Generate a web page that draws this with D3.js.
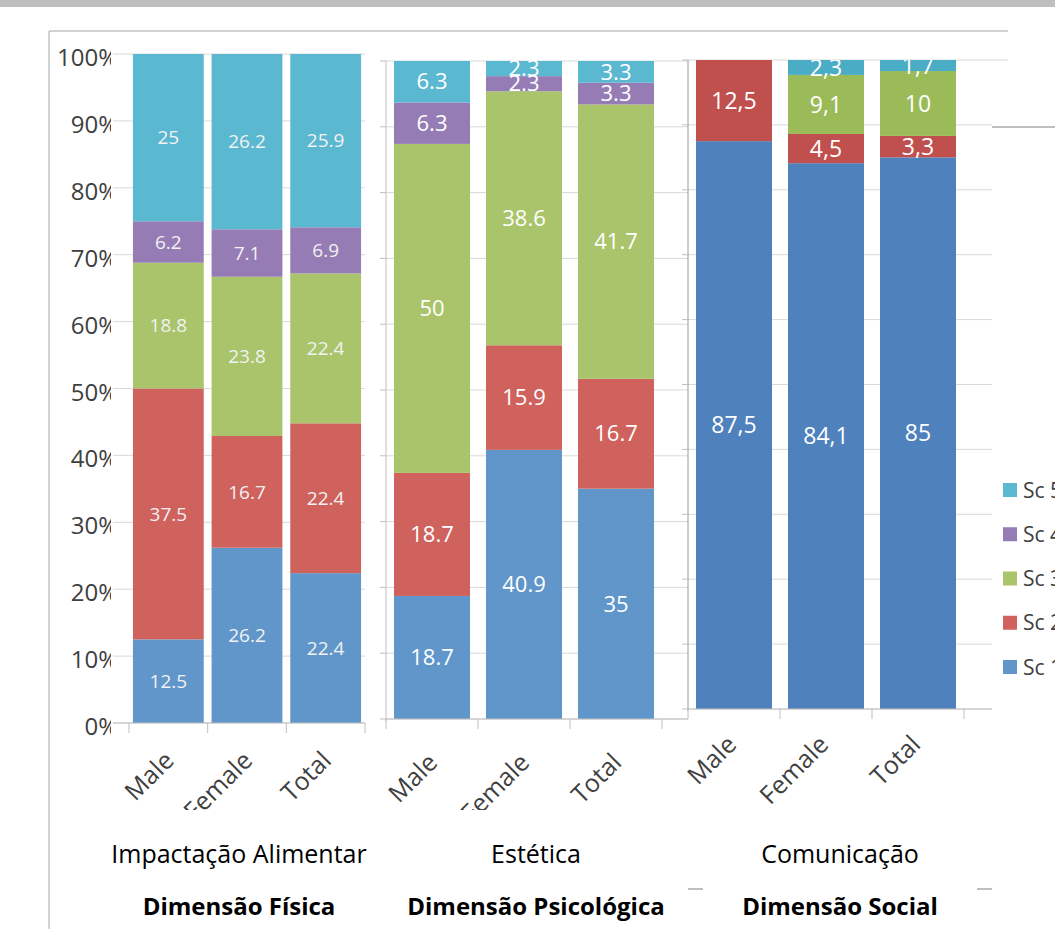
<!DOCTYPE html>
<html>
<head>
<meta charset="utf-8">
<script src="https://cdn.jsdelivr.net/npm/d3@7"></script>
<style>
    body { margin: 0; background: #fff; overflow: hidden; width: 1055px; height: 929px; }
    svg { display: block; font-family: "Open Sans", sans-serif; }
</style>
</head>
<body>
<svg id="chart" width="1055" height="929"></svg>
<script>
// Datos del gráfico
const grupos = ["Male", "Female", "Total"];
const series = ["Sc 1", "Sc 2", "Sc 3", "Sc 4", "Sc 5"];
const ordemLegenda = ["Sc 5", "Sc 4", "Sc 3", "Sc 2", "Sc 1"];
const yTicks = [0, 10, 20, 30, 40, 50, 60, 70, 80, 90, 100];
const yLabels = ["0%", "10%", "20%", "30%", "40%", "50%", "60%", "70%", "80%", "90%", "100%"];

// Una fila por grupo (Male, Female, Total), una columna por série (Sc 1..Sc 5)
const fisica = [[12.5, 37.5, 18.8, 6.2, 25], [26.2, 16.7, 23.8, 7.1, 26.2], [22.4, 22.4, 22.4, 6.9, 25.9]];
const estetica = [[18.7, 18.7, 50, 6.3, 6.3], [40.9, 15.9, 38.6, 2.3, 2.3], [35, 16.7, 41.7, 3.3, 3.3]];
const social = [[87.5, 12.5, 0, 0, 0], [84.1, 4.5, 9.1, 0, 2.3], [85, 3.3, 10, 0, 1.7]];

const subtitulos = ["Impactação Alimentar", "Estética", "Comunicação"];
const dimensoes = ["Dimensão Física", "Dimensão Psicológica", "Dimensão Social"];

const coresClaras = ["#6096CA", "#CF625D", "#A9C46B", "#957CB4", "#5BB8D1"];
const coresEscuras = ["#4F81BD", "#C0504D", "#9BBB59", "#8064A2", "#4BACC6"];

const svg = d3.select("#chart");
const defs = svg.append("defs");

// faixa cinza no topo e moldura
svg.append("rect").attr("x", 0).attr("y", 0).attr("width", 1055).attr("height", 7).attr("fill", "#BFBFBF");
svg.append("line").attr("x1", 49).attr("x2", 1008).attr("y1", 31).attr("y2", 31).attr("stroke", "#A6A6A6");
svg.append("line").attr("x1", 49).attr("x2", 49).attr("y1", 31).attr("y2", 929).attr("stroke", "#A6A6A6");

defs.append("clipPath").attr("id", "clipY").append("rect").attr("x", 0).attr("y", 0).attr("width", 111).attr("height", 929);
defs.append("clipPath").attr("id", "clipX").append("rect").attr("x", 0).attr("y", 0).attr("width", 1055).attr("height", 810);
defs.append("clipPath").attr("id", "clipTop3").append("rect").attr("x", 680).attr("y", 60).attr("width", 400).attr("height", 700);

const paineis = [
    { dados: fisica, x0: 129, x1: 365, yTop: 54, yBot: 723, gx0: 113, gx1: 365, pad: 0.1, cores: coresClaras,
      fs: 19, cor: "#F2F2F2", dec: ".", ldx: 7, ldy: 39, clip: "clipX", yAxis: false, cx: 239 },
    { dados: estetica, x0: 386, x1: 662, yTop: 61, yBot: 719, gx0: 386, gx1: 688, pad: 0.174, cores: coresClaras,
      fs: 22, cor: "#FFFFFF", dec: ".", ldx: 7, ldy: 45, clip: "clipX", yAxis: true, cx: 536 },
    { dados: social, x0: 688, x1: 964, yTop: 60, yBot: 709, gx0: 688, gx1: 992, pad: 0.174, cores: coresEscuras,
      fs: 23, cor: "#FFFFFF", dec: ",", ldx: 4, ldy: 37, clip: null, yAxis: true, cx: 840 }
];

paineis.forEach((p, pi) => {
    const x = d3.scaleBand().domain(grupos).range([p.x0, p.x1])
        .paddingInner(p.pad).paddingOuter(p.pad / 2);
    const y = d3.scaleLinear().domain([0, 100]).range([p.yBot, p.yTop]);
    const g = svg.append("g");

    // linhas de grade
    g.selectAll("line.grid").data(yTicks).join("line")
        .attr("x1", p.gx0).attr("x2", d => (pi === 2 && d === 100) ? 1008 : p.gx1)
        .attr("y1", d => y(d)).attr("y2", d => y(d))
        .attr("stroke", "#D9D9D9").attr("stroke-width", 1);

    // barras empilhadas
    const linhas = p.dados.map((v, i) => {
        const o = { grupo: grupos[i] };
        series.forEach((s, j) => o[s] = v[j]);
        return o;
    });
    const pilha = d3.stack().keys(series)(linhas);

    pilha.forEach((camada, si) => {
        g.append("g").attr("fill", p.cores[si])
            .selectAll("rect").data(camada.filter(d => d[1] - d[0] > 0)).join("rect")
            .attr("x", d => x(d.data.grupo))
            .attr("width", x.bandwidth())
            .attr("y", d => y(d[1]))
            .attr("height", d => y(d[0]) - y(d[1]));
    });

    // rótulos de dados
    const rotulos = g.append("g").attr("clip-path", pi === 2 ? "url(#clipTop3)" : null);
    pilha.forEach(camada => {
        rotulos.append("g").selectAll("text").data(camada.filter(d => d[1] - d[0] > 0)).join("text")
            .attr("x", d => x(d.data.grupo) + x.bandwidth() / 2)
            .attr("y", d => (y(d[0]) + y(d[1])) / 2)
            .attr("dy", "0.35em")
            .attr("text-anchor", "middle")
            .attr("font-size", p.fs)
            .attr("fill", p.cor)
            .text(d => String(d.data[camada.key]).replace(".", p.dec));
    });

    // eixo y
    if (p.yAxis) {
        g.append("line").attr("x1", p.x0).attr("x2", p.x0).attr("y1", p.yTop).attr("y2", p.yBot + 2)
            .attr("stroke", pi === 2 ? "#9A9A9A" : "#BFBFBF");
        g.selectAll("line.ytick").data(yTicks).join("line")
            .attr("x1", p.x0 - 6).attr("x2", p.x0)
            .attr("y1", d => y(d)).attr("y2", d => y(d))
            .attr("stroke", "#BFBFBF");
    } else {
        g.append("g").attr("clip-path", "url(#clipY)")
            .selectAll("text").data(yTicks).join("text")
            .attr("x", 118).attr("y", d => y(d)).attr("dy", "0.5em")
            .attr("text-anchor", "end").attr("font-size", 24).attr("fill", "#404040")
            .text((d, i) => yLabels[i]);
    }

    // eixo x com marcas entre categorias
    g.append("line").attr("x1", p.gx0).attr("x2", p.gx1).attr("y1", y(0)).attr("y2", y(0)).attr("stroke", "#BFBFBF");
    g.selectAll("line.xtick").data(d3.range(grupos.length + 1)).join("line")
        .attr("x1", i => p.x0 + i * x.step()).attr("x2", i => p.x0 + i * x.step())
        .attr("y1", y(0)).attr("y2", y(0) + 10)
        .attr("stroke", "#BFBFBF");

    g.append("g").attr("clip-path", p.clip ? `url(#${p.clip})` : null)
        .selectAll("text").data(grupos).join("text")
        .attr("transform", d => `translate(${x(d) + x.bandwidth() / 2 + p.ldx},${y(0) + p.ldy}) rotate(-45)`)
        .attr("text-anchor", "end")
        .attr("font-size", 25)
        .attr("fill", "#404040")
        .text(d => d);

    // títulos
    svg.append("text").attr("x", p.cx).attr("y", 863).attr("text-anchor", "middle")
        .attr("font-size", 25).attr("fill", "#000").text(subtitulos[pi]);
    svg.append("text").attr("x", p.cx).attr("y", 915).attr("text-anchor", "middle")
        .attr("font-size", 24).attr("font-weight", "bold").attr("fill", "#000").text(dimensoes[pi]);
});

// detalhes do terceiro painel
svg.append("line").attr("x1", 992).attr("x2", 1055).attr("y1", 127).attr("y2", 127).attr("stroke", "#7F7F7F");
svg.append("line").attr("x1", 688).attr("x2", 703).attr("y1", 889).attr("y2", 889).attr("stroke", "#7F7F7F");
svg.append("line").attr("x1", 977).attr("x2", 992).attr("y1", 889).attr("y2", 889).attr("stroke", "#7F7F7F");

// legenda
const yLeg = d3.scalePoint().domain(ordemLegenda).range([490, 667]);
const leg = svg.append("g").selectAll("g").data(ordemLegenda).join("g")
    .attr("transform", d => `translate(1003,${yLeg(d)})`);
leg.append("rect").attr("x", 0).attr("y", -7).attr("width", 14).attr("height", 14)
    .attr("fill", d => coresClaras[series.indexOf(d)]);
leg.append("text").attr("x", 20).attr("dy", "0.36em").attr("font-size", 21).attr("fill", "#404040").text(d => d);
</script>
</body>
</html>
